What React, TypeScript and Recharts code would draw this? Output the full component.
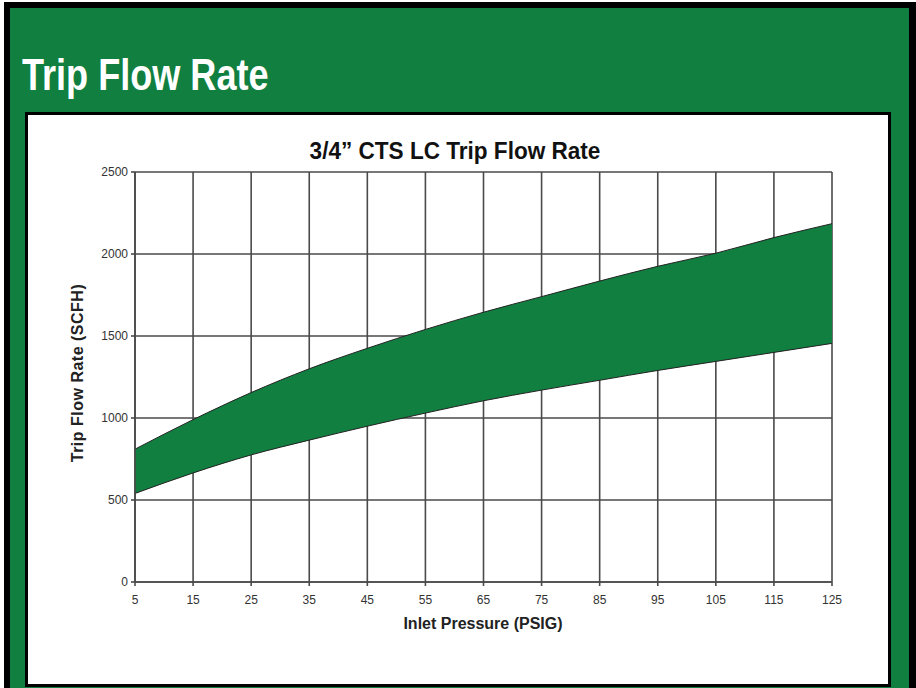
import { AreaChart, Area, XAxis, YAxis, CartesianGrid } from 'recharts';

// inlet pressure (PSIG)
const pressure = [5, 15, 25, 35, 45, 55, 65, 75, 85, 95, 105, 115, 125];
// trip flow band (SCFH)
const lowFlow = [540, 665, 775, 865, 950, 1030, 1105, 1170, 1230, 1290, 1345, 1400, 1455];
const highFlow = [810, 990, 1155, 1300, 1425, 1540, 1645, 1740, 1835, 1925, 2005, 2100, 2185];

const xTicks = [5, 15, 25, 35, 45, 55, 65, 75, 85, 95, 105, 115, 125];
const yTicks = [0, 500, 1000, 1500, 2000, 2500];

const GREEN = '#107f3f';

const data = pressure.map((p, i) => ({ p, band: [lowFlow[i], highFlow[i]] }));

export default function App() {
  return (
    <div style={{ position: 'absolute', left: 0, top: 0, width: 916, height: 688, overflow: 'hidden', background: '#fff' }}>
      <style>{`body{margin:0}`}</style>
      {/* outer green frame */}
      <div style={{ position: 'absolute', left: 4, top: 2, width: 912, height: 700, boxSizing: 'border-box', border: '6px solid #000', borderRight: '7px solid #000', background: GREEN }} />
      <div
        style={{
          position: 'absolute', left: 22, top: 47, color: '#fff', fontFamily: '"Liberation Sans", Arial, sans-serif',
          fontWeight: 700, fontSize: 44, lineHeight: '56px', whiteSpace: 'nowrap', transform: 'scaleX(0.82)', transformOrigin: 'left top',
        }}
      >
        Trip Flow Rate
      </div>
      {/* white panel */}
      <div style={{ position: 'absolute', left: 25, top: 112, width: 866, height: 575, boxSizing: 'border-box', border: '3px solid #000', background: '#fff' }} />
      <div
        style={{
          position: 'absolute', left: 455, top: 137, color: '#111', fontFamily: '"Liberation Sans", Arial, sans-serif',
          fontWeight: 700, fontSize: 24, lineHeight: '28px', whiteSpace: 'nowrap', transform: 'translateX(-50%) scaleX(0.94)',
        }}
      >
        3/4” CTS LC Trip Flow Rate
      </div>
      <div style={{ position: 'absolute', left: 0, top: 0 }}>
        <AreaChart width={916} height={688} data={data} margin={{ top: 172, right: 84, left: 75, bottom: 56 }}>
          <CartesianGrid stroke="#4a4a4a" strokeWidth={1.6} horizontalValues={yTicks} verticalValues={xTicks} />
          <XAxis
            dataKey="p"
            type="number"
            domain={[5, 125]}
            ticks={xTicks}
            interval={0}
            height={50}
            tickSize={4}
            tickMargin={9}
            stroke="#4a4a4a"
            strokeWidth={1.6}
            tick={{ fill: '#333', fontSize: 12, fontFamily: '"Liberation Sans", Arial, sans-serif' }}
          />
          <YAxis
            type="number"
            domain={[0, 2500]}
            ticks={yTicks}
            interval={0}
            width={60}
            tickSize={4}
            tickMargin={3}
            stroke="#4a4a4a"
            strokeWidth={1.6}
            tick={{ fill: '#333', fontSize: 12, fontFamily: '"Liberation Sans", Arial, sans-serif' }}
          />
          <Area
            type="monotone"
            dataKey="band"
            stroke="#222"
            strokeWidth={1}
            fill={GREEN}
            fillOpacity={1}
            isAnimationActive={false}
          />
        </AreaChart>
      </div>
      <div
        style={{
          position: 'absolute', left: 483, top: 615, transform: 'translateX(-50%)', color: '#222',
          fontFamily: '"Liberation Sans", Arial, sans-serif', fontWeight: 700, fontSize: 16, whiteSpace: 'nowrap',
        }}
      >
        Inlet Pressure (PSIG)
      </div>
      <div
        style={{
          position: 'absolute', left: 78, top: 373, transform: 'translate(-50%, -50%) rotate(-90deg)', color: '#222',
          fontFamily: '"Liberation Sans", Arial, sans-serif', fontWeight: 700, fontSize: 16, letterSpacing: 0.5, whiteSpace: 'nowrap',
        }}
      >
        Trip Flow Rate (SCFH)
      </div>
    </div>
  );
}
